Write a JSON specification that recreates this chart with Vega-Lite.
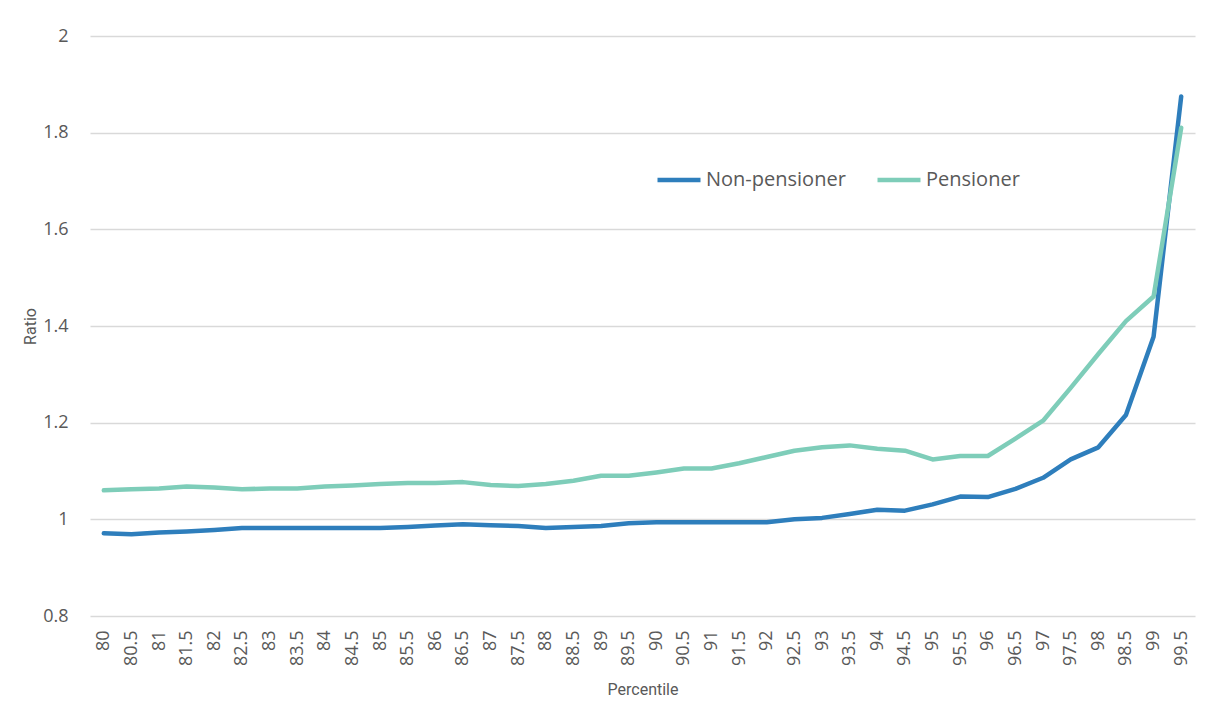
{
  "$schema": "https://vega.github.io/schema/vega-lite/v6.json",
  "autosize": "none",
  "width": 1105,
  "height": 580,
  "padding": {"left": 90, "top": 36, "right": 12, "bottom": 112},
  "background": "white",
  "config": {
    "view": {"stroke": null},
    "font": "Open Sans"
  },
  "data": {
    "values": [
      {"p": 80, "s": "Non-pensioner", "r": 0.971},
      {"p": 80.5, "s": "Non-pensioner", "r": 0.969},
      {"p": 81, "s": "Non-pensioner", "r": 0.973},
      {"p": 81.5, "s": "Non-pensioner", "r": 0.975},
      {"p": 82, "s": "Non-pensioner", "r": 0.978},
      {"p": 82.5, "s": "Non-pensioner", "r": 0.982},
      {"p": 83, "s": "Non-pensioner", "r": 0.982},
      {"p": 83.5, "s": "Non-pensioner", "r": 0.982},
      {"p": 84, "s": "Non-pensioner", "r": 0.982},
      {"p": 84.5, "s": "Non-pensioner", "r": 0.982},
      {"p": 85, "s": "Non-pensioner", "r": 0.982},
      {"p": 85.5, "s": "Non-pensioner", "r": 0.984},
      {"p": 86, "s": "Non-pensioner", "r": 0.987},
      {"p": 86.5, "s": "Non-pensioner", "r": 0.990},
      {"p": 87, "s": "Non-pensioner", "r": 0.988},
      {"p": 87.5, "s": "Non-pensioner", "r": 0.986},
      {"p": 88, "s": "Non-pensioner", "r": 0.982},
      {"p": 88.5, "s": "Non-pensioner", "r": 0.984},
      {"p": 89, "s": "Non-pensioner", "r": 0.986},
      {"p": 89.5, "s": "Non-pensioner", "r": 0.992},
      {"p": 90, "s": "Non-pensioner", "r": 0.994},
      {"p": 90.5, "s": "Non-pensioner", "r": 0.994},
      {"p": 91, "s": "Non-pensioner", "r": 0.994},
      {"p": 91.5, "s": "Non-pensioner", "r": 0.994},
      {"p": 92, "s": "Non-pensioner", "r": 0.994},
      {"p": 92.5, "s": "Non-pensioner", "r": 1.000},
      {"p": 93, "s": "Non-pensioner", "r": 1.003},
      {"p": 93.5, "s": "Non-pensioner", "r": 1.011},
      {"p": 94, "s": "Non-pensioner", "r": 1.020},
      {"p": 94.5, "s": "Non-pensioner", "r": 1.018},
      {"p": 95, "s": "Non-pensioner", "r": 1.031},
      {"p": 95.5, "s": "Non-pensioner", "r": 1.047},
      {"p": 96, "s": "Non-pensioner", "r": 1.046},
      {"p": 96.5, "s": "Non-pensioner", "r": 1.063},
      {"p": 97, "s": "Non-pensioner", "r": 1.086},
      {"p": 97.5, "s": "Non-pensioner", "r": 1.124},
      {"p": 98, "s": "Non-pensioner", "r": 1.149},
      {"p": 98.5, "s": "Non-pensioner", "r": 1.216},
      {"p": 99, "s": "Non-pensioner", "r": 1.378},
      {"p": 99.5, "s": "Non-pensioner", "r": 1.875},
      {"p": 80, "s": "Pensioner", "r": 1.060},
      {"p": 80.5, "s": "Pensioner", "r": 1.062},
      {"p": 81, "s": "Pensioner", "r": 1.064},
      {"p": 81.5, "s": "Pensioner", "r": 1.068},
      {"p": 82, "s": "Pensioner", "r": 1.066},
      {"p": 82.5, "s": "Pensioner", "r": 1.062},
      {"p": 83, "s": "Pensioner", "r": 1.064},
      {"p": 83.5, "s": "Pensioner", "r": 1.064},
      {"p": 84, "s": "Pensioner", "r": 1.068},
      {"p": 84.5, "s": "Pensioner", "r": 1.070},
      {"p": 85, "s": "Pensioner", "r": 1.073},
      {"p": 85.5, "s": "Pensioner", "r": 1.075},
      {"p": 86, "s": "Pensioner", "r": 1.075},
      {"p": 86.5, "s": "Pensioner", "r": 1.077},
      {"p": 87, "s": "Pensioner", "r": 1.071},
      {"p": 87.5, "s": "Pensioner", "r": 1.069},
      {"p": 88, "s": "Pensioner", "r": 1.073},
      {"p": 88.5, "s": "Pensioner", "r": 1.080},
      {"p": 89, "s": "Pensioner", "r": 1.090},
      {"p": 89.5, "s": "Pensioner", "r": 1.090},
      {"p": 90, "s": "Pensioner", "r": 1.097},
      {"p": 90.5, "s": "Pensioner", "r": 1.105},
      {"p": 91, "s": "Pensioner", "r": 1.105},
      {"p": 91.5, "s": "Pensioner", "r": 1.116},
      {"p": 92, "s": "Pensioner", "r": 1.129},
      {"p": 92.5, "s": "Pensioner", "r": 1.142},
      {"p": 93, "s": "Pensioner", "r": 1.149},
      {"p": 93.5, "s": "Pensioner", "r": 1.153},
      {"p": 94, "s": "Pensioner", "r": 1.146},
      {"p": 94.5, "s": "Pensioner", "r": 1.142},
      {"p": 95, "s": "Pensioner", "r": 1.124},
      {"p": 95.5, "s": "Pensioner", "r": 1.131},
      {"p": 96, "s": "Pensioner", "r": 1.131},
      {"p": 96.5, "s": "Pensioner", "r": 1.167},
      {"p": 97, "s": "Pensioner", "r": 1.204},
      {"p": 97.5, "s": "Pensioner", "r": 1.272},
      {"p": 98, "s": "Pensioner", "r": 1.342},
      {"p": 98.5, "s": "Pensioner", "r": 1.410},
      {"p": 99, "s": "Pensioner", "r": 1.461},
      {"p": 99.5, "s": "Pensioner", "r": 1.810}
    ]
  },
  "mark": {"type": "line", "strokeWidth": 4.5, "strokeCap": "round", "strokeJoin": "round"},
  "encoding": {
    "x": {
      "field": "p",
      "type": "ordinal",
      "scale": {"type": "point", "padding": 0.5},
      "axis": {
        "title": "Percentile",
        "titleFont": "Roboto",
        "titleFontSize": 16,
        "titleFontWeight": "normal",
        "titleColor": "#595959",
        "titlePadding": 16,
        "labelAngle": -90,
        "labelFontSize": 18,
        "labelColor": "#595959",
        "labelPadding": 14,
        "ticks": false,
        "domain": false,
        "grid": false
      }
    },
    "y": {
      "field": "r",
      "type": "quantitative",
      "scale": {"domain": [0.8, 2], "nice": false, "zero": false},
      "axis": {
        "title": "Ratio",
        "titleFont": "Roboto",
        "titleFontSize": 16,
        "titleFontWeight": "normal",
        "titleColor": "#595959",
        "titlePadding": 4,
        "values": [0.8, 1, 1.2, 1.4, 1.6, 1.8, 2],
        "format": "~g",
        "labelFontSize": 18,
        "labelColor": "#595959",
        "labelPadding": 22,
        "ticks": false,
        "domain": false,
        "grid": true,
        "gridColor": "#d9d9d9",
        "gridWidth": 1.5
      }
    },
    "color": {
      "field": "s",
      "type": "nominal",
      "scale": {"domain": ["Non-pensioner", "Pensioner"], "range": ["#2E7EBC", "#7ECDB9"]},
      "legend": {
        "title": null,
        "orient": "none",
        "direction": "horizontal",
        "legendX": 565,
        "legendY": 120,
        "symbolType": "stroke",
        "symbolSize": 1849,
        "symbolStrokeWidth": 4.5,
        "labelFontSize": 20,
        "labelColor": "#595959",
        "labelOffset": 3,
        "columnPadding": 22
      }
    }
  }
}
